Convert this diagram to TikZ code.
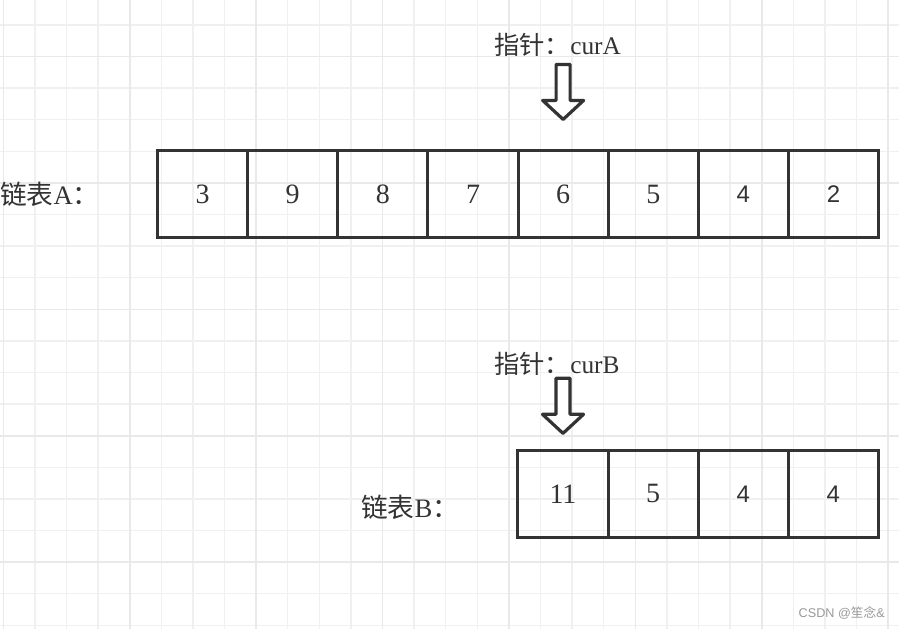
\documentclass[tikz,border=0pt]{standalone}
\usepackage{fontspec}
\setmainfont{Liberation Serif}
\newfontfamily\cjk{Noto Sans CJK SC}
\newfontfamily\helv{Liberation Sans}
\usetikzlibrary{positioning}
\definecolor{ink}{HTML}{333333}
\definecolor{gridmin}{HTML}{F0F0F0}
\definecolor{gridmaj}{HTML}{E9E9E9}
\tikzset{
  cell/.style={draw=ink, line width=2.25pt, minimum width=67.6pt, minimum height=65.2pt,
    inner sep=0pt, outer sep=0pt, text=ink, font=\fontsize{21}{21}\selectfont},
  listtag/.style={inner sep=0pt, text=ink, font=\fontsize{20}{20}\selectfont},
  ptrtag/.style={inner sep=0pt, text=ink, font=\fontsize{19}{19}\selectfont},
  minline/.style={gridmin, line width=1pt},
  majline/.style={gridmaj, line width=1.2pt},
  ptr/.pic={
    \draw[ink, line width=2.4pt, line join=round, fill=white]
      (-7,-36) -- (7,-36) -- (7,0) -- (20.5,0) -- (0,19) -- (-20.5,0) -- (-7,0) -- cycle;
  }
}
\begin{document}
\begin{tikzpicture}[x=0.75pt,y=-0.75pt]
\useasboundingbox (0,0) rectangle (899,629);
\fill[white] (0,0) rectangle (899,629);
% grid
\foreach \k in {0,...,28} \draw[minline] ({3.3+31.6*\k},0) -- ({3.3+31.6*\k},629);
\foreach \k in {0,...,19} \draw[minline] (0,{24.9+31.6*\k}) -- (899,{24.9+31.6*\k});
\foreach \k in {0,...,7} \draw[majline] ({3.3+126.4*\k},0) -- ({3.3+126.4*\k},629);
\foreach \k in {0,...,4} \draw[majline] (0,{56.5+126.4*\k}) -- (899,{56.5+126.4*\k});

% list A
\node[listtag, anchor=base west] (tagA) at (0,204) {{\cjk 链表}A{\cjk ：}};
\node[cell] (a1) at (202.6,194) {3};
\node[cell, right=0pt of a1] (a2) {9};
\node[cell, right=0pt of a2] (a3) {8};
\node[cell, right=0pt of a3] (a4) {7};
\node[cell, right=0pt of a4] (a5) {6};
\node[cell, right=0pt of a5] (a6) {5};
\node[cell, right=0pt of a6, font=\helv\fontsize{18}{18}\selectfont] (a7) {4};
\node[cell, right=0pt of a7, font=\helv\fontsize{18}{18}\selectfont] (a8) {2};

% pointer A
\node[ptrtag, anchor=base west] (ptrA) at (494,54) {{\cjk 指针：}curA};
\pic at ([yshift=37.6pt]a5.north) {ptr};

% list B
\node[listtag, anchor=base west] (tagB) at (361,517) {{\cjk 链表}B{\cjk ：}};
\node[cell] (b1) at (563,493.8) {11};
\node[cell, right=0pt of b1] (b2) {5};
\node[cell, right=0pt of b2, font=\helv\fontsize{18}{18}\selectfont] (b3) {4};
\node[cell, right=0pt of b3, font=\helv\fontsize{18}{18}\selectfont] (b4) {4};

% pointer B
\node[ptrtag, anchor=base west] (ptrB) at (494,373) {{\cjk 指针：}curB};
\pic at ([yshift=27pt]b1.north) {ptr};

% watermark
\node[inner sep=0pt, anchor=base east, text=black!40, font=\helv\fontsize{9.5}{9.5}\selectfont] (mark) at (885,617) {CSDN @{\cjk 笙念}\&};
\end{tikzpicture}
\end{document}
